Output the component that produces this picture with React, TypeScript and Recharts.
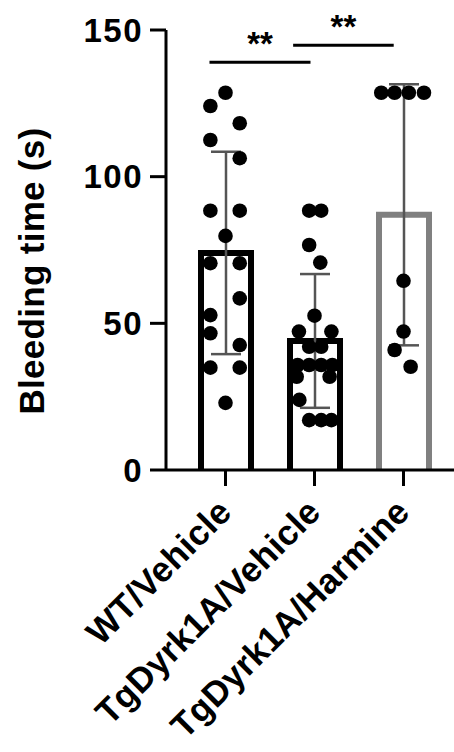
import React from "react";
import { ComposedChart, Bar, ErrorBar, Scatter, XAxis, YAxis, ReferenceLine } from "recharts";

const groups = ["WT/Vehicle", "TgDyrk1A/Vehicle", "TgDyrk1A/Harmine"];
const means = [74, 44, 87];
const sds = [34.5, 22.8, 44.5];
const barColors = ["#000000", "#000000", "#808080"];
const yTicks = [0, 50, 100, 150];

// individual animals, with horizontal jitter in category units
const wtValues = [128.6, 124.1, 118.2, 112.5, 106.3, 88.4, 88.4, 79.8, 70.5, 70.5, 58.5, 52.8, 46.6, 42.6, 34.9, 34.9, 22.9];
const wtJitter = [0, -0.17, 0.16, -0.17, 0.16, -0.17, 0.16, 0, -0.17, 0.16, 0.16, -0.17, -0.17, 0.16, -0.17, 0.16, 0];
const tgValues = [88.4, 88.4, 76.7, 70.7, 52.6, 47.2, 47.2, 42, 42, 35.8, 35.8, 35.8, 35.8, 31.8, 31.8, 23.9, 17, 17, 17];
const tgJitter = [-0.06, 0.075, -0.06, 0.065, 0, -0.175, 0.19, -0.06, 0.075, -0.19, -0.06, 0.075, 0.2, -0.2, 0.17, -0.17, -0.06, 0.075, 0.19];
const harValues = [128.6, 128.6, 128.6, 128.6, 64.5, 47.2, 40.9, 35.2];
const harJitter = [-0.25, -0.1, 0.06, 0.23, 0, 0, -0.1, 0.08];

// significance brackets
const sigFrom = [-0.18, 0.76];
const sigTo = [0.955, 1.89];
const sigY = [139, 144.8];
const sigText = ["**", "**"];

const barData = groups.map((g, i) => ({ name: g, mean: means[i], sd: sds[i] }));
const dots = [
  ...wtValues.map((v, i) => ({ x: 0 + wtJitter[i], y: v })),
  ...tgValues.map((v, i) => ({ x: 1 + tgJitter[i], y: v })),
  ...harValues.map((v, i) => ({ x: 2 + harJitter[i], y: v })),
];

const font = "'Liberation Sans', Arial, sans-serif";

const BarOutline = (props: any) => {
  const { x, y, width, height, index } = props;
  const c = barColors[index] || "#000";
  return (
    <g>
      <rect x={x} y={y} width={width} height={height} fill="#fff" />
      <path
        d={`M${x},${y + height} L${x},${y} L${x + width},${y} L${x + width},${y + height}`}
        fill="none"
        stroke={c}
        strokeWidth={6}
      />
    </g>
  );
};

const XTick = (props: any) => {
  const { x, y, payload } = props;
  const ax = x + 8;
  const ay = y + 26;
  return (
    <text
      x={ax}
      y={ay}
      transform={`rotate(-45 ${ax} ${ay})`}
      textAnchor="end"
      fontFamily={font}
      fontWeight="bold"
      fontSize={35}
      letterSpacing={0.3}
      fill="#000"
    >
      {payload.value}
    </text>
  );
};

export default function App() {
  return (
    <div style={{ position: "absolute", left: 0, top: 0, background: "#fff" }}>
      <ComposedChart width={454} height={752} data={barData} margin={{ top: 30, right: 0, left: 0, bottom: 0 }}>
        <XAxis
          xAxisId="cat"
          dataKey="name"
          type="category"
          padding={{ left: 15, right: 6 }}
          height={282}
          interval={0}
          tickSize={16}
          axisLine={{ stroke: "#000", strokeWidth: 3 }}
          tickLine={{ stroke: "#000", strokeWidth: 3 }}
          tick={<XTick />}
        />
        <XAxis
          xAxisId="num"
          dataKey="x"
          type="number"
          domain={[-0.5, 2.5]}
          padding={{ left: 15, right: 6 }}
          allowDataOverflow
          hide
          height={0}
        />
        <YAxis
          width={166}
          domain={[0, 150]}
          ticks={yTicks}
          interval={0}
          tickSize={16}
          tickMargin={7}
          axisLine={{ stroke: "#000", strokeWidth: 3 }}
          tickLine={{ stroke: "#000", strokeWidth: 3 }}
          tick={{ fill: "#000", fontSize: 33, fontWeight: "bold", fontFamily: font, letterSpacing: 1.5 }}
          label={{
            content: () => (
              <text
                x={44}
                y={271}
                transform="rotate(-90 44 271)"
                textAnchor="middle"
                fontFamily={font}
                fontWeight="bold"
                fontSize={35}
                letterSpacing={0.3}
                fill="#000"
              >
                Bleeding time (s)
              </text>
            ),
          }}
        />
        <Bar xAxisId="cat" dataKey="mean" barSize={50} shape={<BarOutline />} isAnimationActive={false}>
          <ErrorBar dataKey="sd" width={15} stroke="#555" strokeWidth={2.5} direction="y" />
        </Bar>
        <Scatter
          xAxisId="num"
          data={dots}
          dataKey="y"
          isAnimationActive={false}
          shape={(p: any) => <circle cx={p.cx} cy={p.cy} r={7.3} fill="#000" />}
        />
        {sigY.map((y, i) => (
          <ReferenceLine
            key={i}
            xAxisId="num"
            segment={[{ x: sigFrom[i], y }, { x: sigTo[i], y }]}
            stroke="#000"
            strokeWidth={3}
            label={{
              value: sigText[i],
              position: "top",
              offset: 7,
              fill: "#000",
              fontSize: 33,
              fontWeight: "bold",
              fontFamily: font,
            }}
          />
        ))}
      </ComposedChart>
    </div>
  );
}
